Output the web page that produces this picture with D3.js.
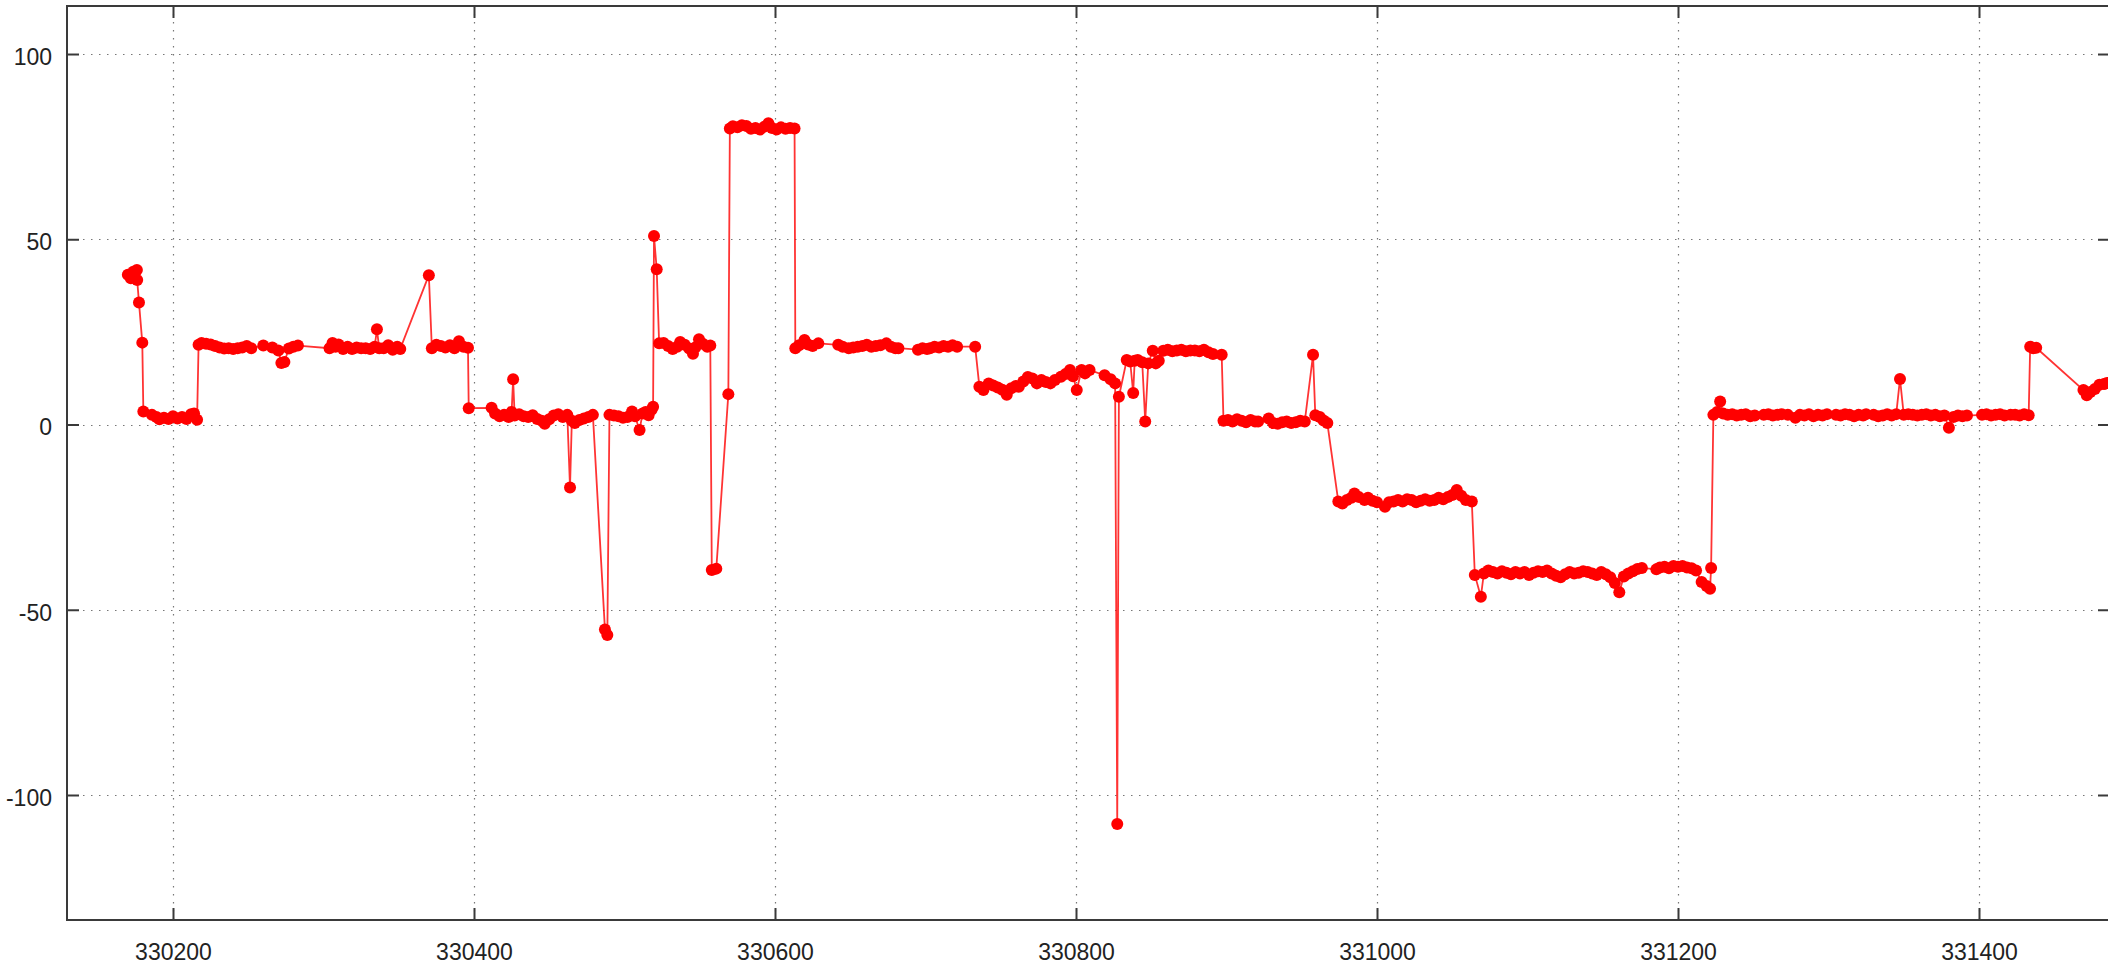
<!DOCTYPE html>
<html>
<head>
<meta charset="utf-8">
<script src="https://cdn.jsdelivr.net/npm/d3@7"></script>
<style>
  body { margin: 0; background: #fff; }
  svg { display: block; }
  .tick text { font-family: "Liberation Sans", Arial, sans-serif; font-size: 23px; fill: #222; }
</style>
</head>
<body>
<svg width="2108" height="964"></svg>
<script>
var xTicks = [330200, 330400, 330600, 330800, 331000, 331200, 331400];
var yTicks = [-100, -50, 0, 50, 100];

var positions = [
  330170, 330172, 330173.6, 330176, 330176.2, 330177.4, 330179.6, 330180.3,
  330186, 330189, 330191, 330194, 330197, 330200, 330203, 330206, 330209, 330212, 330214, 330216,
  330217, 330219, 330222, 330225, 330228, 330231, 330234, 330237, 330240, 330243, 330246, 330249, 330252,
  330260, 330266, 330270, 330272, 330274, 330277, 330280, 330283,
  330304, 330306, 330308, 330310, 330313, 330316, 330319, 330322, 330325, 330328, 330331, 330334, 330335.5,
  330337, 330340, 330343, 330346, 330349, 330351,
  330370, 330372, 330375, 330378, 330381, 330384, 330387, 330390, 330393, 330396, 330396.5,
  330411.7, 330414, 330417, 330420, 330423, 330425, 330426, 330427, 330430, 330433, 330436, 330439,
  330442, 330445, 330447, 330450, 330453, 330456, 330459, 330462, 330463.8, 330465, 330467, 330470,
  330473, 330476, 330479, 330487, 330488.6, 330490, 330493, 330496, 330499, 330502, 330505, 330507,
  330510, 330512, 330514, 330516, 330518, 330519, 330519.6, 330521.4,
  330523, 330526, 330529, 330532, 330535, 330537, 330540, 330543, 330545.5, 330547, 330549.5, 330552, 330555, 330557,
  330558, 330561, 330569, 330570,
  330572, 330575, 330578, 330581, 330584, 330587, 330590, 330593, 330595.6, 330598, 330601, 330604, 330607, 330610, 330613,
  330613.5, 330616, 330619.6, 330622, 330625, 330628.8,
  330642, 330645, 330649, 330652, 330655, 330658, 330661, 330664, 330667, 330670, 330674, 330677, 330680, 330682,
  330695, 330698, 330701, 330703, 330706, 330709, 330712, 330715, 330718, 330721, 330733,
  330735.8, 330738.5, 330742, 330745, 330748, 330751, 330754, 330757, 330760, 330762, 330765, 330768, 330771,
  330774, 330777, 330780, 330783, 330786, 330790, 330793, 330796, 330798, 330800.5, 330803.7, 330806, 330809,
  330819, 330823, 330826, 330827.4, 330828.5,
  330833.7, 330836, 330838, 330839, 330841, 330844, 330846, 330848, 330851, 330853, 330855, 330858,
  330861, 330864, 330867, 330870, 330873, 330876, 330879, 330882, 330885, 330888, 330891, 330896.8,
  330898, 330901, 330904, 330907, 330910, 330913, 330916, 330919, 330921,
  330928, 330931, 330934, 330937, 330940, 330943, 330946, 330949, 330952, 330957.5, 330959, 330962, 330964.5, 330967,
  330974.3, 330977, 330980, 330983, 330985, 330988, 330991.7, 330994, 330997, 331000,
  331005.3, 331008, 331011, 331014, 331017, 331020, 331023, 331026, 331029, 331032, 331035, 331038, 331041,
  331044, 331047, 331050, 331053, 331056, 331059, 331063,
  331065, 331069, 331071, 331074, 331077, 331080, 331083, 331086, 331089, 331092, 331095, 331098, 331101,
  331104, 331107, 331110, 331113, 331116, 331119, 331122, 331125, 331128, 331131, 331134, 331137, 331140,
  331143, 331146, 331149, 331152, 331155, 331158, 331161, 331164, 331167, 331170, 331173, 331176,
  331185.6, 331188, 331191, 331194, 331197, 331200, 331203, 331206, 331209, 331212, 331215.7, 331219, 331221.3, 331222,
  331223.5, 331226, 331228, 331230, 331233, 331236, 331239, 331242, 331245, 331248, 331251,
  331257, 331260, 331263, 331266, 331269, 331273, 331278, 331281, 331284, 331287, 331290, 331293, 331296, 331299,
  331305, 331308, 331311, 331314, 331317, 331320, 331323, 331325, 331330, 331333, 331336, 331339, 331342, 331345,
  331347.5, 331350, 331353, 331356, 331359, 331362, 331365, 331368, 331371, 331374, 331377, 331380, 331383,
  331386, 331389, 331392, 331402, 331405, 331408, 331411, 331414, 331417, 331421, 331424, 331427, 331430, 331433,
  331434, 331436, 331438, 331469.4, 331471.6, 331474, 331477, 331480, 331483, 331485
];

var values = [
  40.4, 39.5, 41.2, 41.7, 39.0, 32.9, 22.1, 3.5,
  2.6, 2.0, 1.4, 1.8, 1.5, 2.2, 1.6, 2.0, 1.5, 2.8, 3.0, 1.3,
  21.5, 22.0, 21.8, 21.6, 21.2, 20.8, 20.5, 20.6, 20.4, 20.6, 20.8, 21.2, 20.6,
  21.3, 20.8, 20.0, 16.6, 16.9, 20.5, 21.0, 21.3,
  20.6, 22.0, 21.0, 21.6, 20.4, 21.0, 20.4, 20.8, 20.6, 20.6, 20.4, 21.0, 25.7,
  20.6, 20.6, 21.4, 20.2, 21.0, 20.4,
  40.3, 20.6, 21.5, 21.2, 20.8, 21.4, 20.6, 22.5, 21.0, 20.7, 4.4,
  4.5, 3.0, 2.2, 2.6, 2.0, 3.4, 12.2, 2.4, 2.8, 2.2, 2.0, 2.5,
  1.5, 1.0, 0.2, 1.4, 2.4, 2.8, 2.0, 2.6, -17.0, 1.0, 0.4, 1.2,
  1.6, 2.0, 2.6, -55.3, -56.8, 2.6, 2.4, 2.2, 1.8, 2.0, 3.5, 2.2,
  -1.5, 3.0, 3.4, 2.5, 4.0, 4.8, 50.9, 41.9,
  21.9, 22.0, 21.2, 20.4, 21.0, 22.3, 21.5, 20.5, 19.1, 20.8, 23.0, 21.8, 21.0, 21.3,
  -39.3, -38.9, 8.2, 79.9,
  80.5, 80.2, 80.8, 80.6, 79.8, 80.0, 79.6, 80.4, 81.3, 80.0, 79.6, 80.2, 79.8, 80.0, 79.9,
  20.6, 21.4, 22.8, 21.6, 21.2, 21.9,
  21.5, 21.0, 20.6, 20.8, 21.0, 21.2, 21.5, 21.0, 21.2, 21.4, 21.9, 21.0, 20.6, 20.6,
  20.2, 20.6, 20.4, 20.6, 21.0, 20.8, 21.2, 21.0, 21.4, 21.0, 21.0,
  10.2, 9.3, 11.1, 10.5, 10.0, 9.4, 8.0, 9.8, 10.4, 10.2, 11.6, 12.8, 12.4,
  11.1, 12.0, 11.5, 11.1, 12.0, 12.9, 13.6, 14.7, 13.0, 9.3, 14.7, 13.8, 14.7,
  13.3, 12.2, 11.1, -107.8, 7.5,
  17.4, 17.0, 8.5, 17.2, 17.4, 16.8, 0.8, 16.5, 19.9, 16.5, 17.2, 19.9,
  20.2, 19.8, 20.0, 20.2, 19.8, 20.0, 20.0, 19.8, 20.2, 19.5, 19.0, 18.8,
  1.0, 1.2, 0.8, 1.4, 1.0, 0.6, 1.2, 0.8, 0.8,
  1.6, 0.4, 0.2, 0.6, 0.8, 0.4, 0.6, 1.0, 0.8, 18.8, 2.5, 2.0, 1.1, 0.4,
  -20.8, -21.3, -20.4, -19.8, -18.6, -19.6, -20.4, -19.8, -20.6, -21.0,
  -22.2, -21.0, -20.8, -20.4, -20.8, -20.2, -20.4, -21.0, -20.6, -20.2, -20.6, -20.4, -19.8,
  -20.2, -19.6, -19.0, -17.7, -19.2, -20.4, -20.8,
  -40.6, -46.5, -40.2, -39.4, -39.8, -40.2, -39.6, -40.0, -40.4, -39.8, -40.2, -39.8, -40.6,
  -40.0, -39.6, -39.8, -39.4, -40.2, -40.8, -41.2, -40.4, -39.8, -40.2, -40.0, -39.6, -39.8,
  -40.2, -40.6, -39.8, -40.4, -41.2, -42.8, -45.3, -41.0, -40.2, -39.6, -39.0, -38.7,
  -39.1, -38.6, -38.4, -38.8, -38.2, -38.4, -38.2, -38.6, -38.8, -39.4, -42.5, -43.6, -44.3, -38.7,
  2.6, 3.4, 6.2, 3.0, 2.6, 2.8, 2.4, 2.6, 2.8, 2.2, 2.4,
  2.6, 2.8, 2.4, 2.6, 2.8, 2.6, 1.8, 2.6, 2.4, 2.8, 2.2, 2.6, 2.4, 2.8,
  2.6, 2.4, 2.8, 2.6, 2.2, 2.6, 2.4, 2.8, 2.6, 2.2, 2.4, 2.8, 2.4, 2.8,
  12.3, 2.6, 2.8, 2.6, 2.4, 2.6, 2.8, 2.4, 2.6, 2.2, 2.4, -0.9, 2.0,
  2.4, 2.2, 2.4, 2.6, 2.8, 2.4, 2.6, 2.8, 2.4, 2.6, 2.6, 2.4, 2.8, 2.5,
  21.0, 20.6, 20.7, 9.3, 7.9, 8.8, 9.6, 10.7, 10.9, 11.2
];

var plotLeft = 67, plotRight = 2110, plotTop = 6, plotBottom = 920;

var x = d3.scaleLinear().domain([330129.57, 331487.04]).range([plotLeft, plotRight]);
var y = d3.scaleLinear().domain([-133.74, 112.96]).range([plotBottom, plotTop]);

var svg = d3.select("svg");

// dotted grid
var grid = svg.append("g")
    .attr("stroke", "#777")
    .attr("stroke-width", 1.2)
    .attr("stroke-dasharray", "1.5,6.5");

grid.selectAll(".gx").data(xTicks).enter().append("line")
    .attr("x1", d => Math.round(x(d)) + 0.5).attr("x2", d => Math.round(x(d)) + 0.5)
    .attr("y1", plotTop).attr("y2", plotBottom);

grid.selectAll(".gy").data(yTicks).enter().append("line")
    .attr("y1", d => Math.round(y(d)) + 0.5).attr("y2", d => Math.round(y(d)) + 0.5)
    .attr("x1", plotLeft).attr("x2", plotRight);

// data
var pts = positions.map((p, i) => [p, values[i]]);

svg.append("clipPath").attr("id", "plotclip")
    .append("rect").attr("x", plotLeft).attr("y", plotTop)
    .attr("width", plotRight - plotLeft).attr("height", plotBottom - plotTop);

var plot = svg.append("g").attr("clip-path", "url(#plotclip)");

var line = d3.line()
    .x(d => x(d[0]))
    .y(d => y(d[1]));

plot.append("path")
    .attr("d", line(pts))
    .attr("fill", "none")
    .attr("stroke", "#ff0000")
    .attr("stroke-opacity", 0.8)
    .attr("stroke-width", 1.8);

plot.selectAll("circle").data(pts).enter().append("circle")
    .attr("cx", d => x(d[0]))
    .attr("cy", d => y(d[1]))
    .attr("r", 6)
    .attr("fill", "#ff0000");

// axes, ticks pointing inward
var axisColor = "#3a3a3a";
var plainNum = d => String(d);

svg.append("g")
    .attr("transform", "translate(0," + plotBottom + ")")
    .call(d3.axisBottom(x).tickValues(xTicks).tickFormat(plainNum).tickSizeInner(-12).tickSizeOuter(0).tickPadding(24));

var yAxis = svg.append("g")
    .attr("transform", "translate(" + plotLeft + ",0)")
    .call(d3.axisLeft(y).tickValues(yTicks).tickFormat(plainNum).tickSizeInner(-12).tickSizeOuter(0).tickPadding(15));

yAxis.selectAll("text").attr("dy", "0.45em");

svg.append("g")
    .attr("transform", "translate(0," + plotTop + ")")
    .call(d3.axisTop(x).tickValues(xTicks).tickFormat("").tickSizeInner(-12).tickSizeOuter(0));

svg.append("g")
    .attr("transform", "translate(" + plotRight + ",0)")
    .call(d3.axisRight(y).tickValues(yTicks).tickFormat("").tickSizeInner(-12).tickSizeOuter(0));

svg.selectAll(".domain").remove();
svg.selectAll(".tick line").attr("stroke", axisColor).attr("stroke-width", 2);

svg.append("rect")
    .attr("x", plotLeft).attr("y", plotTop)
    .attr("width", plotRight - plotLeft).attr("height", plotBottom - plotTop)
    .attr("fill", "none")
    .attr("stroke", axisColor)
    .attr("stroke-width", 2);
</script>
</body>
</html>
